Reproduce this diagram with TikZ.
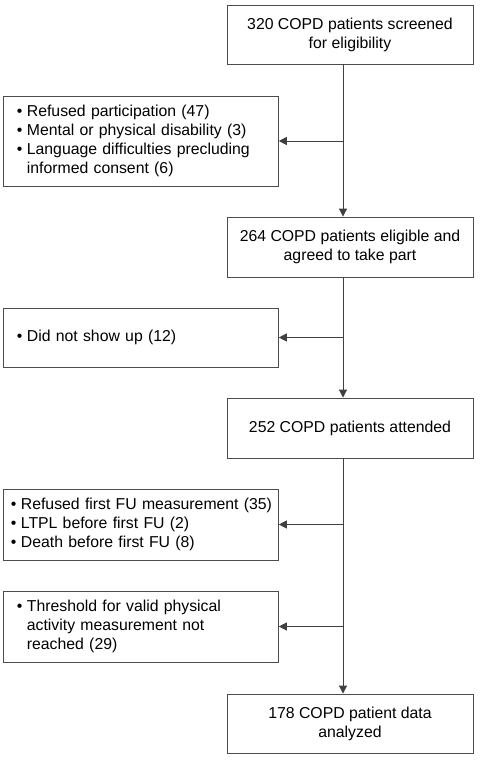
\documentclass[tikz,border=0pt]{standalone}
\usepackage{fontspec}
\setmainfont{Liberation Sans}
\usetikzlibrary{arrows.meta, positioning, calc}

% bulleted line and continuation line of an exclusion box
\newcommand{\bulitem}[1]{\mbox{\makebox[10pt][l]{\textbullet}#1}}
\newcommand{\bulcont}[1]{\mbox{\hspace*{10pt}#1}}

\begin{document}
\begin{tikzpicture}[
    x=1pt, y=-1pt,
    font=\fontsize{15.8}{19}\selectfont,
    % Boxes of the main column and the exclusion boxes on the left
    mainbox/.style={draw=black!70, line width=0.8pt, minimum width=246pt, minimum height=59pt, inner sep=0pt, align=center},
    sidebox/.style={draw=black!70, line width=0.8pt, anchor=west, text width=247.5pt, inner xsep=14pt, inner ysep=0pt, align=left},
    % Connectors
    flow/.style={draw=black!75, line width=0.8pt, -{Triangle[length=8pt,width=8pt]}}
]
\useasboundingbox (0,0) rectangle (490,762);

% ===============================
% Main column
% ===============================
\node[mainbox] (screened) at (350,34.5) {320 COPD patients screened\\for eligibility};
\node[mainbox, minimum height=60pt] (eligible) at (350,247) {264 COPD patients eligible and\\agreed to take part};
\node[mainbox, minimum height=60pt] (attended) at (350,428) {252 COPD patients attended};
\node[mainbox] (analyzed) at (350,723.5) {178 COPD patient data\\analyzed};

% ===============================
% Exclusions
% ===============================
\node[sidebox, minimum height=90pt] (excl1) at (2.5,141) {\bulitem{Refused participation (47)}\\
    \bulitem{Mental or physical disability (3)}\\
    \bulitem{Language difficulties precluding}\\
    \bulcont{informed consent (6)}};
\node[sidebox, minimum height=59pt] (excl2) at (2.5,337.5) {\bulitem{Did not show up (12)}};
\node[sidebox, minimum height=71pt, inner xsep=8pt, text width=259.5pt] (excl3) at (2.5,524.5) {\bulitem{Refused first FU measurement (35)}\\
    \bulitem{LTPL before first FU (2)}\\
    \bulitem{Death before first FU (8)}};
\node[sidebox, minimum height=71pt] (excl4) at (2.5,626.5) {\bulitem{Threshold for valid physical}\\
    \bulcont{activity measurement not}\\
    \bulcont{reached (29)}};

% Spine of the flow chart
\coordinate (spine) at (343,0);
\draw[flow] (screened.south -| spine) -- (eligible.north -| spine);
\draw[flow] (eligible.south -| spine) -- (attended.north -| spine);
\draw[flow] (attended.south -| spine) -- (analyzed.north -| spine);

% Branches to the exclusion boxes
\draw[flow] (excl1.east -| spine) -- (excl1.east);
\draw[flow] (excl2.east -| spine) -- (excl2.east);
\draw[flow] (excl3.east -| spine) -- (excl3.east);
\draw[flow] (excl4.east -| spine) -- (excl4.east);
\end{tikzpicture}
\end{document}
